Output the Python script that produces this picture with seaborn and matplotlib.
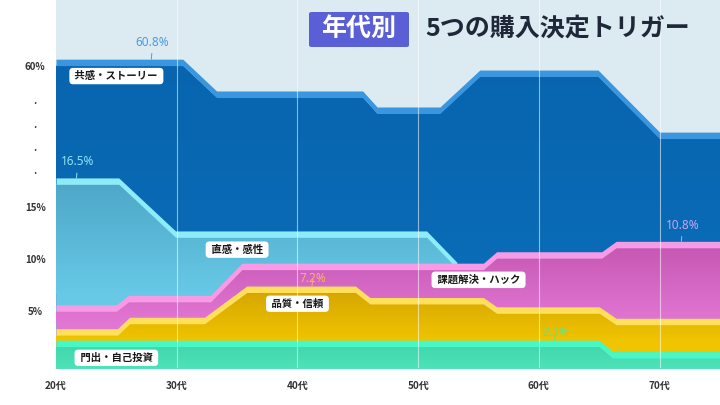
import numpy as np
import seaborn as sns
import matplotlib.pyplot as plt
from matplotlib.patches import FancyBboxPatch
from matplotlib.colors import LinearSegmentedColormap

# ages (x) and cumulative top of each band
ages_story = [20, 30.5, 33.3, 45.4, 46.6, 51.8, 55.1, 64.9, 70.0, 75]
top_story = [63.1, 63.1, 48.8, 48.8, 41.6, 41.6, 58.2, 58.2, 30.3, 30.3]

ages_intuition = [20, 25.2, 29.9, 50.7, 53.2]
top_intuition = [17.8, 17.8, 12.7, 12.7, 9.7]

ages_hack = [20, 25.0, 26.0, 32.8, 35.4, 55.4, 56.5, 65.2, 66.4, 75]
top_hack = [5.6, 5.6, 6.5, 6.5, 9.6, 9.6, 10.7, 10.7, 11.7, 11.7]

ages_quality = [20, 25.1, 26.1, 32.3, 35.8, 44.8, 46.0, 55.4, 56.5, 65.0, 66.4, 75]
top_quality = [3.3, 3.3, 4.4, 4.4, 7.4, 7.4, 6.3, 6.3, 5.4, 5.4, 4.3, 4.3]

ages_start = [20, 65.0, 66.1, 75]
top_start = [2.2, 2.2, 1.1, 1.1]

labels = ["共感・ストーリー", "直感・感性", "課題解決・ハック", "品質・信頼", "門出・自己投資"]
decades = [20, 30, 40, 50, 60, 70]
decade_labels = ["20代", "30代", "40代", "50代", "60代", "70代"]

# value callouts: text, age, value at band top
callout_text = ["60.8%", "16.5%", "7.2%", "2.3%", "10.8%"]
callout_age = [27.9, 21.7, 41.2, 61.3, 71.8]
callout_top = [63.1, 17.8, 7.4, 2.2, 11.7]

sns.set_theme(style="white")
plt.rcParams["font.family"] = ["Noto Sans CJK JP", "DejaVu Sans"]

# broken y scale: linear to 20%, compressed above
BRK = 20
K = 0.2139


def fwd(v):
    v = np.asarray(v, dtype=float)
    return np.where(v <= BRK, v, BRK + (v - BRK) * K)


def inv(t):
    t = np.asarray(t, dtype=float)
    return np.where(t <= BRK, t, BRK + (t - BRK) / K)


fig = plt.figure(figsize=(7.2, 4.05), dpi=100, facecolor="white")
ax = fig.add_axes([56 / 720, 37 / 405, 664 / 720, 368 / 405])
ax.set_facecolor("#DCEAF1")
ax.set_yscale("function", functions=(fwd, inv))

# (x, top, gradient top colour, gradient bottom colour, highlight, gradient span in axes fraction)
layers = [
    (ages_story, top_story, "#0864AE", "#0A6BB6", "#3A96DE", (0.3, 0.85)),
    (ages_intuition, top_intuition, "#4DA5C6", "#67C9E6", "#8EEBF8", (0.2, 0.52)),
    (ages_hack, top_hack, "#C455B1", "#E277D3", "#F79BE6", (0.12, 0.35)),
    (ages_quality, top_quality, "#D3A300", "#F0C500", "#FFE05A", (0.07, 0.22)),
    (ages_start, top_start, "#3FD2A8", "#4DE2B8", "#48F7C6", (0.0, 0.08)),
]
band = 0.62
grad = np.linspace(1, 0, 64).reshape(-1, 1)
for i, (xs, ys, c_top, c_bot, light, span) in enumerate(layers):
    xs = np.array(xs)
    ys = np.array(ys)
    inner = inv(fwd(ys) - band)
    z = 1 + i
    # body of the band, then a vertical gradient clipped to it
    poly = ax.fill_between(xs, -1, inner, color=c_bot, lw=0, zorder=z)
    clip = (poly.get_paths()[0], poly.get_transform())
    cmap = LinearSegmentedColormap.from_list("g%d" % i, [c_bot, c_top])
    im = ax.imshow(grad, cmap=cmap, extent=[0, 1, span[0], span[1]], transform=ax.transAxes,
                   aspect="auto", interpolation="bilinear", zorder=z + 0.5)
    im.set_clip_path(*clip)
    im2 = ax.imshow(np.array([[1.0]]), cmap=cmap, vmin=0, vmax=1, extent=[0, 1, span[1], 1],
                    transform=ax.transAxes, aspect="auto", zorder=z + 0.5)
    im2.set_clip_path(*clip)
    # light highlight strip on the top edge
    ax.fill_between(xs, inner, ys, color=light, lw=0, zorder=z + 0.6)

for d in decades[1:]:
    ax.axvline(d, color="white", lw=0.8, alpha=0.55, zorder=10)

# band labels
label_pos = [(25.0, 55.5), (35.0, 10.9), (55.0, 8.0), (40.0, 5.7), (25.0, 0.5)]
for name, (x, y) in zip(labels, label_pos):
    ax.text(x, y, " " + name + " ", ha="center", va="center", fontsize=7.5,
            fontweight="bold", color="#1a1a1a", zorder=12,
            bbox=dict(boxstyle="round,pad=0.3,rounding_size=0.35", fc="white", ec="none"))

# value callouts
callout_col = ["#4C9BE0", "#8FE3F5", "#F5B26B", "#5CE68A", "#C7A4F0"]
callout_dy = [1.63, 1.54, 0.77, 0.77, 1.54]
for txt, x, y, c, dy in zip(callout_text, callout_age, callout_top, callout_col, callout_dy):
    ty = inv(fwd(y) + dy)
    ax.annotate(txt, xy=(x, y), xytext=(x + 0.1, ty), ha="center", va="center",
                fontsize=8.5, color=c, family=["Noto Sans", "DejaVu Sans"], zorder=12,
                arrowprops=dict(arrowstyle="-", color=c, lw=0.7, shrinkA=1, shrinkB=0))

ax.set_xlim(20, 75)
ax.set_ylim(-0.48, 89.7)
ax.set_xticks(decades)
ax.set_xticklabels(decade_labels, fontsize=7.2, fontweight="bold", color="#333333")
ax.set_yticks([5, 10, 15, 18.6, 23.6, 33.9, 44.7, 60])
ax.set_yticklabels(["5%", "10%", "15%", ".", ".", ".", ".", "60%"], fontsize=7,
                   fontweight="bold", color="#333333")
for lab in ax.get_yticklabels():
    lab.set_horizontalalignment("center")
ax.tick_params(axis="y", length=0, pad=15)
ax.tick_params(axis="x", length=0, pad=9)
ax.grid(False)
sns.despine(ax=ax, left=True, bottom=True)

# title
fig.patches.append(FancyBboxPatch((309 / 720, 358 / 405), 100 / 720, 35 / 405,
                                  boxstyle="round,pad=0,rounding_size=0.004",
                                  transform=fig.transFigure, fc="#5B5FD6", ec="none"))
fig.text(359 / 720, 376 / 405, "年代別", ha="center", va="center", fontsize=18,
         fontweight="bold", color="white")
fig.text(425 / 720, 376 / 405, "5つの購入決定トリガー", ha="left", va="center",
         fontsize=18, fontweight="bold", color="#1E2838")

fig.savefig("out.png", dpi=100)
